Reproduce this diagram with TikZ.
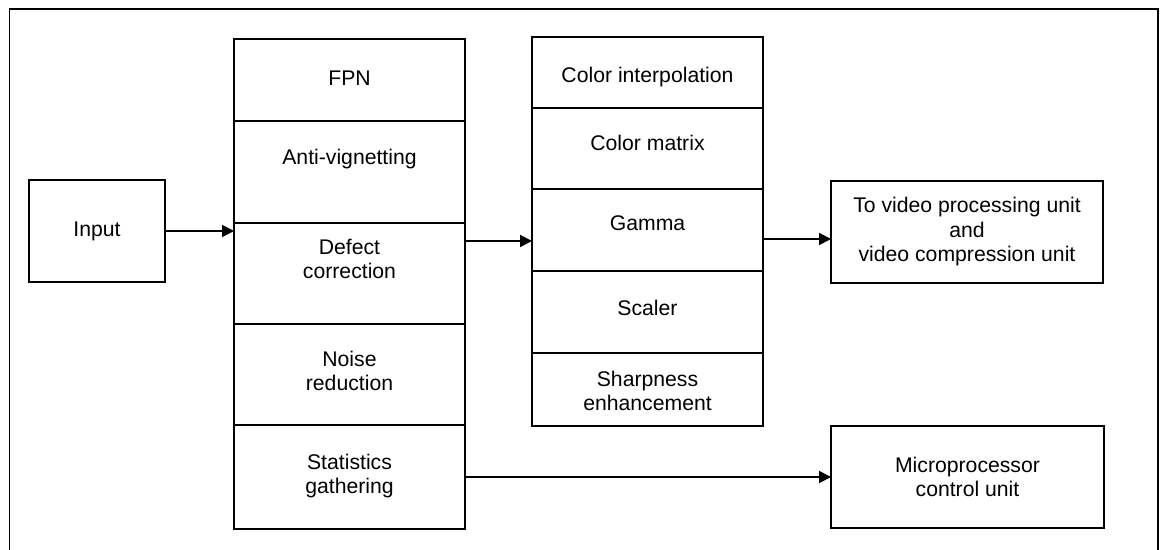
\documentclass[tikz,border=0pt]{standalone}
\usepackage{fontspec}
\setmainfont{Liberation Sans}
\usetikzlibrary{arrows.meta,positioning}
\begin{document}
\begin{tikzpicture}[>={Triangle[length=12bp,width=12bp]},line width=1.9bp,
    font=\fontsize{21.2bp}{24.5bp}\selectfont,
    cell/.style={draw,rectangle,inner sep=0pt,outer sep=0pt,minimum width=231bp},
    box/.style={draw,rectangle,inner sep=0pt,outer sep=0pt,align=center,minimum height=102bp},
    lbl/.style={align=center,inner sep=0pt}]
		%%
  \useasboundingbox (0bp,0bp) rectangle (1162bp,550bp);
  \draw (9.5bp,0bp) -- (9.5bp,541bp) -- (1158bp,541bp) -- (1158bp,0bp);
  \node (Input) at (97bp,319bp) [box,minimum width=136bp] {Input};
  \node (Video) at (967bp,318bp) [box,minimum width=272bp] {To video processing unit\\and\\video compression unit};
  \node (Micro) at (967.5bp,73bp) [box,minimum width=273bp] {Microprocessor\\control unit};
		% first column
  \node (FPN) at (349.5bp,470bp) [cell,minimum height=82bp] {};
  \node (Anti) at (349.5bp,378bp) [cell,minimum height=102bp] {};
  \node (Defect) at (349.5bp,276.5bp) [cell,minimum height=101bp] {};
  \node (Noise) at (349.5bp,175.5bp) [cell,minimum height=101bp] {};
  \node (Stats) at (349.5bp,73bp) [cell,minimum height=104bp] {};
  \node (FPNt) [lbl,below=31bp of FPN.north] {FPN};
  \node (Antit) [lbl,below=27bp of Anti.north] {Anti-vignetting};
  \node (Defectt) [lbl,below=15bp of Defect.north] {Defect\\correction};
  \node (Noiset) [lbl,below=26bp of Noise.north] {Noise\\reduction};
  \node (Statst) [lbl,below=28bp of Stats.north] {Statistics\\gathering};
		% second column
  \node (Interp) at (647.5bp,477.5bp) [cell,minimum height=71bp] {};
  \node (Matrix) at (647.5bp,401.5bp) [cell,minimum height=81bp] {};
  \node (Gamma) at (647.5bp,320bp) [cell,minimum height=82bp] {};
  \node (Scaler) at (647.5bp,238bp) [cell,minimum height=82bp] {};
  \node (Sharp) at (647.5bp,160.5bp) [cell,minimum height=73bp] {};
  \node (Interpt) [lbl,below=29bp of Interp.north] {Color interpolation};
  \node (Matrixt) [lbl,below=26bp of Matrix.north] {Color matrix};
  \node (Gammat) [lbl,below=26bp of Gamma.north] {Gamma};
  \node (Scalert) [lbl,below=28bp of Scaler.north] {Scaler};
  \node (Sharpt) [lbl,below=17bp of Sharp.north] {Sharpness\\enhancement};
		% arrows
  \draw [->] (Input.east) -- (Input.east -| Defect.west);
  \draw [->] (Defect.east |- 0,309bp) -- (Gamma.west |- 0,309bp);
  \draw [->] (Gamma.east |- 0,311bp) -- (Video.west |- 0,311bp);
  \draw [->] (Stats.east) -- (Micro.west);
		%
\end{tikzpicture}
\end{document}
